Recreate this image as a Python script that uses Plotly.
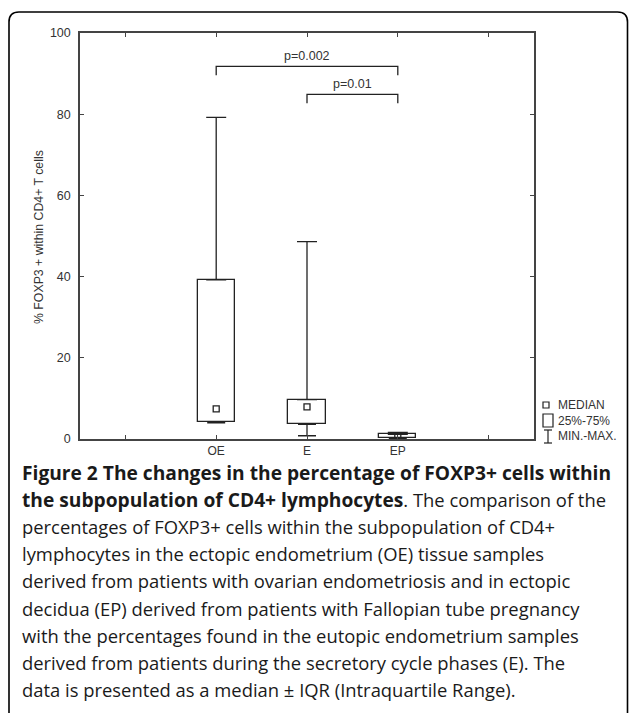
import plotly.graph_objects as go

# ---------------- data ----------------
categories = ["OE", "E", "EP"]
q_min = [4.0, 0.8, 0.1]
q1 = [4.3, 3.6, 0.2]
median = [7.4, 7.9, 0.8]
q3 = [39.2, 9.7, 1.15]
q_max = [79.2, 48.6, 1.6]

y_ticks = [0, 20, 40, 60, 80, 100]
x_tick_labels = ["", "OE", "E", "EP", ""]

comparisons = [("OE", "EP"), ("E", "EP")]
comp_heights = [91.8, 84.9]
comp_labels = ["p=0.002", "p=0.01"]

legend_labels = ["MEDIAN", "25%-75%", "MIN.-MAX."]

y_title = "% FOXP3 + within CD4+ T cells"

BOLD = '<span style="font-size:19.2px"><b>{}</b></span>'
caption_lines = [
    BOLD.format("Figure 2 The changes in the percentage of FOXP3+ cells within"),
    BOLD.format("the subpopulation of CD4+ lymphocytes") + ". The comparison of the",
    "percentages of FOXP3+ cells within the subpopulation of CD4+",
    "lymphocytes in the ectopic endometrium (OE) tissue samples",
    "derived from patients with ovarian endometriosis and in ectopic",
    "decidua (EP) derived from patients with Fallopian tube pregnancy",
    "with the percentages found in the eutopic endometrium samples",
    "derived from patients during the secretory cycle phases (E). The",
    "data is presented as a median \u00b1 IQR (Intraquartile Range).",
]

# ---------------- layout geometry ----------------
W, H = 629, 713
PL, PR, PT, PB = 80, 534, 33, 439  # plot area in pixels


def px(x):
    return (x - PL) / (PR - PL)


def py(y):
    return (PB - y) / (PB - PT)


xpos = [i + 1 for i in range(len(categories))]
pos = dict(zip(categories, xpos))
INK = "#222222"
AX = "#444444"
chart_font = "Liberation Sans, Arial, sans-serif"

fig = go.Figure()

# boxes (25%-75%)
fig.add_trace(go.Bar(
    x=xpos, y=[b - a for a, b in zip(q1, q3)], base=q1, width=0.41,
    marker=dict(color="white", line=dict(color=INK, width=1.3)),
    showlegend=False, hoverinfo="skip",
))

# upper whiskers
fig.add_trace(go.Scatter(
    x=xpos, y=q3, mode="markers", marker=dict(size=1, opacity=0),
    error_y=dict(type="data", symmetric=False,
                 array=[m - b for b, m in zip(q3, q_max)],
                 arrayminus=[0] * len(q3), width=10, thickness=1.3, color=INK),
    showlegend=False, hoverinfo="skip",
))
# lower whiskers
fig.add_trace(go.Scatter(
    x=xpos, y=q1, mode="markers", marker=dict(size=1, opacity=0),
    error_y=dict(type="data", symmetric=False,
                 array=[0] * len(q1),
                 arrayminus=[a - m for a, m in zip(q1, q_min)],
                 width=9, thickness=1.3, color=INK),
    showlegend=False, hoverinfo="skip",
))
# medians
fig.add_trace(go.Scatter(
    x=xpos, y=median, mode="markers",
    marker=dict(symbol="square-open", size=6, color=INK, line=dict(width=1.3)),
    showlegend=False, hoverinfo="skip",
))

# significance brackets
LEG = 2.2
for (a, b), h, lab in zip(comparisons, comp_heights, comp_labels):
    xa, xb = pos[a], pos[b]
    fig.add_trace(go.Scatter(
        x=[xa, xa, xb, xb], y=[h - LEG, h, h, h - LEG], mode="lines",
        line=dict(color=INK, width=1.3), showlegend=False, hoverinfo="skip",
    ))
    fig.add_annotation(x=(xa + xb) / 2, y=h, text=lab, showarrow=False,
                       xanchor="center", yanchor="middle", yshift=10,
                       font=dict(family=chart_font, size=12.5, color="#333"))

# y title
fig.add_annotation(x=px(39), y=py(237), xref="paper", yref="paper",
                   text=y_title, textangle=-90, showarrow=False,
                   xanchor="center", yanchor="middle",
                   font=dict(family=chart_font, size=12.3, color="#333"))

# custom legend
shapes = []
shapes.append(dict(type="rect", xref="paper", yref="paper",
                   x0=px(543), x1=px(549), y0=py(402), y1=py(408),
                   line=dict(color=INK, width=1.2)))
shapes.append(dict(type="rect", xref="paper", yref="paper",
                   x0=px(543), x1=px(553), y0=py(414), y1=py(427),
                   line=dict(color=INK, width=1.2)))
for (x0, y0, x1, y1) in [(548, 430, 548, 443), (544, 430, 552, 430), (544, 443, 552, 443)]:
    shapes.append(dict(type="line", xref="paper", yref="paper",
                       x0=px(x0), x1=px(x1), y0=py(y0), y1=py(y1),
                       line=dict(color=INK, width=1.2)))
for lab, yc in zip(legend_labels, [405, 421, 436]):
    fig.add_annotation(x=px(556), y=py(yc), xref="paper", yref="paper",
                       text=lab, showarrow=False, xanchor="left", yanchor="middle",
                       font=dict(family=chart_font, size=12, color="#333"))

# outer rounded frame
pts = [(9, 713), (9, 22), (9, 12), (19, 12), (617.5, 12), (627.5, 12), (627.5, 22), (627.5, 713)]
P = [(px(a), py(b)) for a, b in pts]
path = (f"M {P[0][0]},{P[0][1]} L {P[1][0]},{P[1][1]} Q {P[2][0]},{P[2][1]} {P[3][0]},{P[3][1]} "
        f"L {P[4][0]},{P[4][1]} Q {P[5][0]},{P[5][1]} {P[6][0]},{P[6][1]} L {P[7][0]},{P[7][1]}")
shapes.append(dict(type="path", xref="paper", yref="paper", path=path,
                   line=dict(color="black", width=1.6)))

# caption
for i, line in enumerate(caption_lines):
    fig.add_annotation(x=px(21), y=py(472.5 + i * 27.1), xref="paper", yref="paper",
                       text=line, showarrow=False, xanchor="left", yanchor="middle",
                       borderpad=0,
                       font=dict(family="Open Sans, sans-serif", size=18.4, color="#1a1a1a"))

fig.update_layout(
    width=W, height=H, autosize=False,
    margin=dict(l=PL, r=W - PR, t=PT, b=H - PB, pad=0),
    paper_bgcolor="white", plot_bgcolor="white",
    showlegend=False, shapes=shapes, bargap=0,
    xaxis=dict(range=[-0.5, 4.5], tickvals=list(range(len(x_tick_labels))),
               ticktext=x_tick_labels, ticks="inside", ticklen=4, tickwidth=1,
               tickcolor=AX, showline=True, linecolor=AX, linewidth=1.5,
               mirror="ticks", showgrid=False, zeroline=False,
               ticklabelstandoff=0,
               tickfont=dict(family=chart_font, size=12, color="#333")),
    yaxis=dict(range=[0, 100], tickvals=y_ticks, ticks="inside", ticklen=4,
               tickwidth=1, tickcolor=AX, showline=True, linecolor=AX,
               linewidth=1.5, mirror="ticks", showgrid=False, zeroline=False,
               ticklabelstandoff=5,
               tickfont=dict(family=chart_font, size=12.5, color="#333")),
)

fig.write_html("out.html", config={"displayModeBar": False},
               post_script="document.body.style.margin='0';document.body.style.padding='0';")
